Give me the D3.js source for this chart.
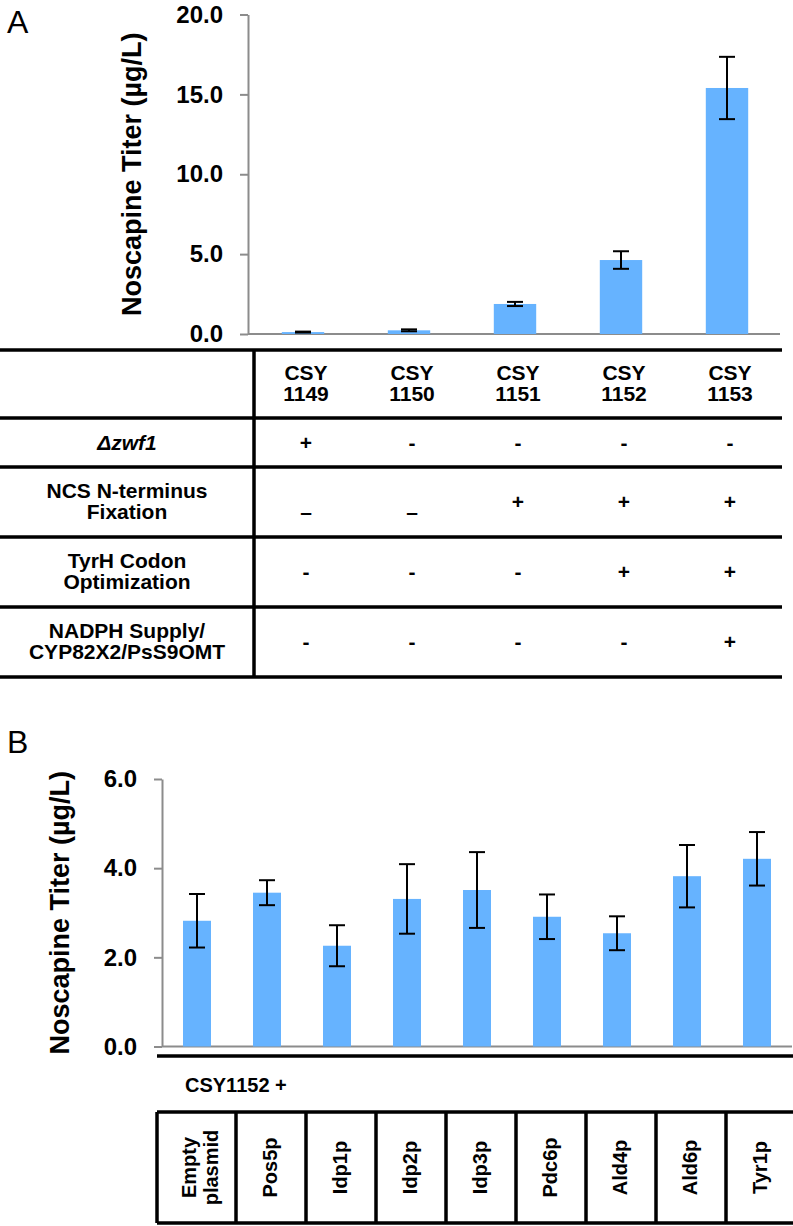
<!DOCTYPE html>
<meta charset="utf-8">
<style>
body { margin: 0; background: #fff; }
svg { font-family: "Liberation Sans", Arial, sans-serif; }
.axis .domain, .axis line { stroke: #8c8c8c; stroke-width: 2; }
.axis text { font-size: 24px; font-weight: bold; fill: #000; }
.tbl { stroke: #000; stroke-width: 3.5; }
.cell { font-size: 20px; font-weight: bold; fill: #000; }
.cellA { font-size: 21px; font-weight: bold; fill: #000; }
</style>
<svg width="793" height="1226"></svg>
<script src="https://d3js.org/d3.v7.min.js"></script>
<script>

// panel A data
var strainsA = ["1149", "1150", "1151", "1152", "1153"];
var titerA = [0.12, 0.23, 1.88, 4.63, 15.4];
var errA = [0.03, 0.06, 0.13, 0.55, 1.95];
var ticksA = [0, 5, 10, 15, 20];
var rowLabels = [["Δzwf1"], ["NCS N-terminus", "Fixation"], ["TyrH Codon", "Optimization"], ["NADPH Supply/", "CYP82X2/PsS9OMT"]];
var rowMarks = [
  ["+", "-", "-", "-", "-"],
  ["–", "–", "+", "+", "+"],
  ["-", "-", "-", "+", "+"],
  ["-", "-", "-", "-", "+"]
];

// panel B data
var plasmids = ["Empty plasmid", "Pos5p", "Idp1p", "Idp2p", "Idp3p", "Pdc6p", "Ald4p", "Ald6p", "Tyr1p"];
var titerB = [2.82, 3.45, 2.26, 3.31, 3.51, 2.91, 2.54, 3.82, 4.21];
var errB = [0.60, 0.28, 0.46, 0.78, 0.85, 0.50, 0.38, 0.70, 0.60];
var ticksB = [0, 2, 4, 6];

var svg = d3.select("svg");
var barColor = "#66b3ff";

function panel(opts) {
  var x = d3.scaleBand().domain(d3.range(opts.vals.length))
      .range(opts.xr).paddingInner(0.6).paddingOuter(0.3);
  var y = d3.scaleLinear().domain(opts.yd).range(opts.yr);
  var g = svg.append("g");

  g.append("text").attr("x", 7).attr("y", opts.letterY)
      .attr("font-size", 32).text(opts.letter);

  g.append("g").attr("class", "axis")
      .attr("transform", "translate(" + opts.axisX + ",0)")
      .call(d3.axisLeft(y).tickValues(opts.ticks).tickFormat(d3.format(".1f"))
        .tickSize(8).tickSizeOuter(0).tickPadding(17));

  // baseline
  g.append("line").attr("x1", opts.axisX).attr("x2", opts.xr[1])
      .attr("y1", y(0)).attr("y2", y(0))
      .attr("stroke", "#8c8c8c").attr("stroke-width", 2);

  g.append("text")
      .attr("transform", "translate(" + opts.labelX + "," + (y(opts.yd[0]) + y(opts.yd[1])) / 2 + ") rotate(-90)")
      .attr("text-anchor", "middle").attr("font-size", 27).attr("font-weight", "bold")
      .text("Noscapine Titer (µg/L)");

  g.selectAll("rect.bar").data(opts.vals).enter().append("rect")
      .attr("class", "bar")
      .attr("x", function(d, i) { return x(i); })
      .attr("width", x.bandwidth())
      .attr("y", function(d) { return y(d); })
      .attr("height", function(d) { return y(0) - y(d); })
      .attr("fill", barColor);

  var eb = g.selectAll("g.err").data(opts.vals).enter().append("g")
      .attr("stroke", "#000").attr("stroke-width", 2);
  eb.append("line")
      .attr("x1", function(d, i) { return x(i) + x.bandwidth() / 2; })
      .attr("x2", function(d, i) { return x(i) + x.bandwidth() / 2; })
      .attr("y1", function(d, i) { return y(d + opts.err[i]); })
      .attr("y2", function(d, i) { return y(d - opts.err[i]); });
  [1, -1].forEach(function(s) {
    eb.append("line")
        .attr("x1", function(d, i) { return x(i) + x.bandwidth() / 2 - 8; })
        .attr("x2", function(d, i) { return x(i) + x.bandwidth() / 2 + 8; })
        .attr("y1", function(d, i) { return y(d + s * opts.err[i]); })
        .attr("y2", function(d, i) { return y(d + s * opts.err[i]); });
  });
  return x;
}

// ---------- A ----------
var xA = panel({
  letter: "A", letterY: 33, vals: titerA, err: errA, ticks: ticksA,
  xr: [250, 780], yd: [0, 20], yr: [334, 14.5], axisX: 248, labelX: 141
});

var tA = svg.append("g");
var rowsY = [350, 418, 467, 537, 607, 677];
rowsY.forEach(function(yy) {
  tA.append("line").attr("class", "tbl").attr("x1", 0).attr("x2", 782).attr("y1", yy).attr("y2", yy);
});
tA.append("line").attr("class", "tbl").attr("x1", 254).attr("x2", 254).attr("y1", 350).attr("y2", 677);

function colA(i) { return xA(i) + xA.bandwidth() / 2 + 3; }

tA.selectAll("text.hd").data(strainsA).enter().append("text")
    .attr("class", "cellA").attr("text-anchor", "middle")
    .attr("x", function(d, i) { return colA(i); })
    .attr("y", 380)
    .each(function(d) {
      d3.select(this).append("tspan").text("CSY");
      d3.select(this).append("tspan").attr("x", d3.select(this).attr("x")).attr("dy", 21).text(d);
    });

rowLabels.forEach(function(lines, r) {
  var top = rowsY[r + 1], bot = rowsY[r + 2], mid = (top + bot) / 2;
  var t = tA.append("text").attr("class", "cellA").attr("text-anchor", "middle")
      .attr("x", 127).attr("y", mid + 7 - (lines.length - 1) * 11);
  if (r === 0) t.attr("font-style", "italic");
  lines.forEach(function(l, k) {
    t.append("tspan").attr("x", 127).attr("dy", k ? 21 : 0).text(l);
  });
  rowMarks[r].forEach(function(m, i) {
    tA.append("text").attr("class", "cellA").attr("text-anchor", "middle")
        .attr("x", colA(i)).attr("y", mid + (m === "–" ? 10 : 0)).attr("dy", "0.35em")
        .text(m);
  });
});

// ---------- B ----------
var xB = panel({
  letter: "B", letterY: 753, vals: titerB, err: errB, ticks: ticksB,
  xr: [162, 792], yd: [0, 6], yr: [1046.5, 779], axisX: 162, labelX: 69
});

var tB = svg.append("g");
[1056, 1112, 1223].forEach(function(yy) {
  tB.append("line").attr("class", "tbl").attr("x1", 157).attr("x2", 793).attr("y1", yy).attr("y2", yy);
});
tB.append("text").attr("class", "cell").attr("x", 185).attr("y", 1092).text("CSY1152 +");

var sepB = [157].concat(d3.range(1, plasmids.length).map(function(i) { return xB.step() * i + 162 + 4; }));
sepB.forEach(function(xx) {
  tB.append("line").attr("class", "tbl").attr("x1", xx).attr("x2", xx).attr("y1", 1112).attr("y2", 1223);
});

plasmids.forEach(function(p, i) {
  var words = p.split(" ");
  var cx = xB(i) + xB.bandwidth() / 2 + 4 + 6 - (words.length - 1) * 11;
  var t = tB.append("text").attr("class", "cell").attr("text-anchor", "middle")
      .attr("transform", "translate(" + cx + ",1167.5) rotate(-90)");
  words.forEach(function(w, k) {
    t.append("tspan").attr("x", 0).attr("dy", k ? 22 : 0).text(w);
  });
});
</script>
